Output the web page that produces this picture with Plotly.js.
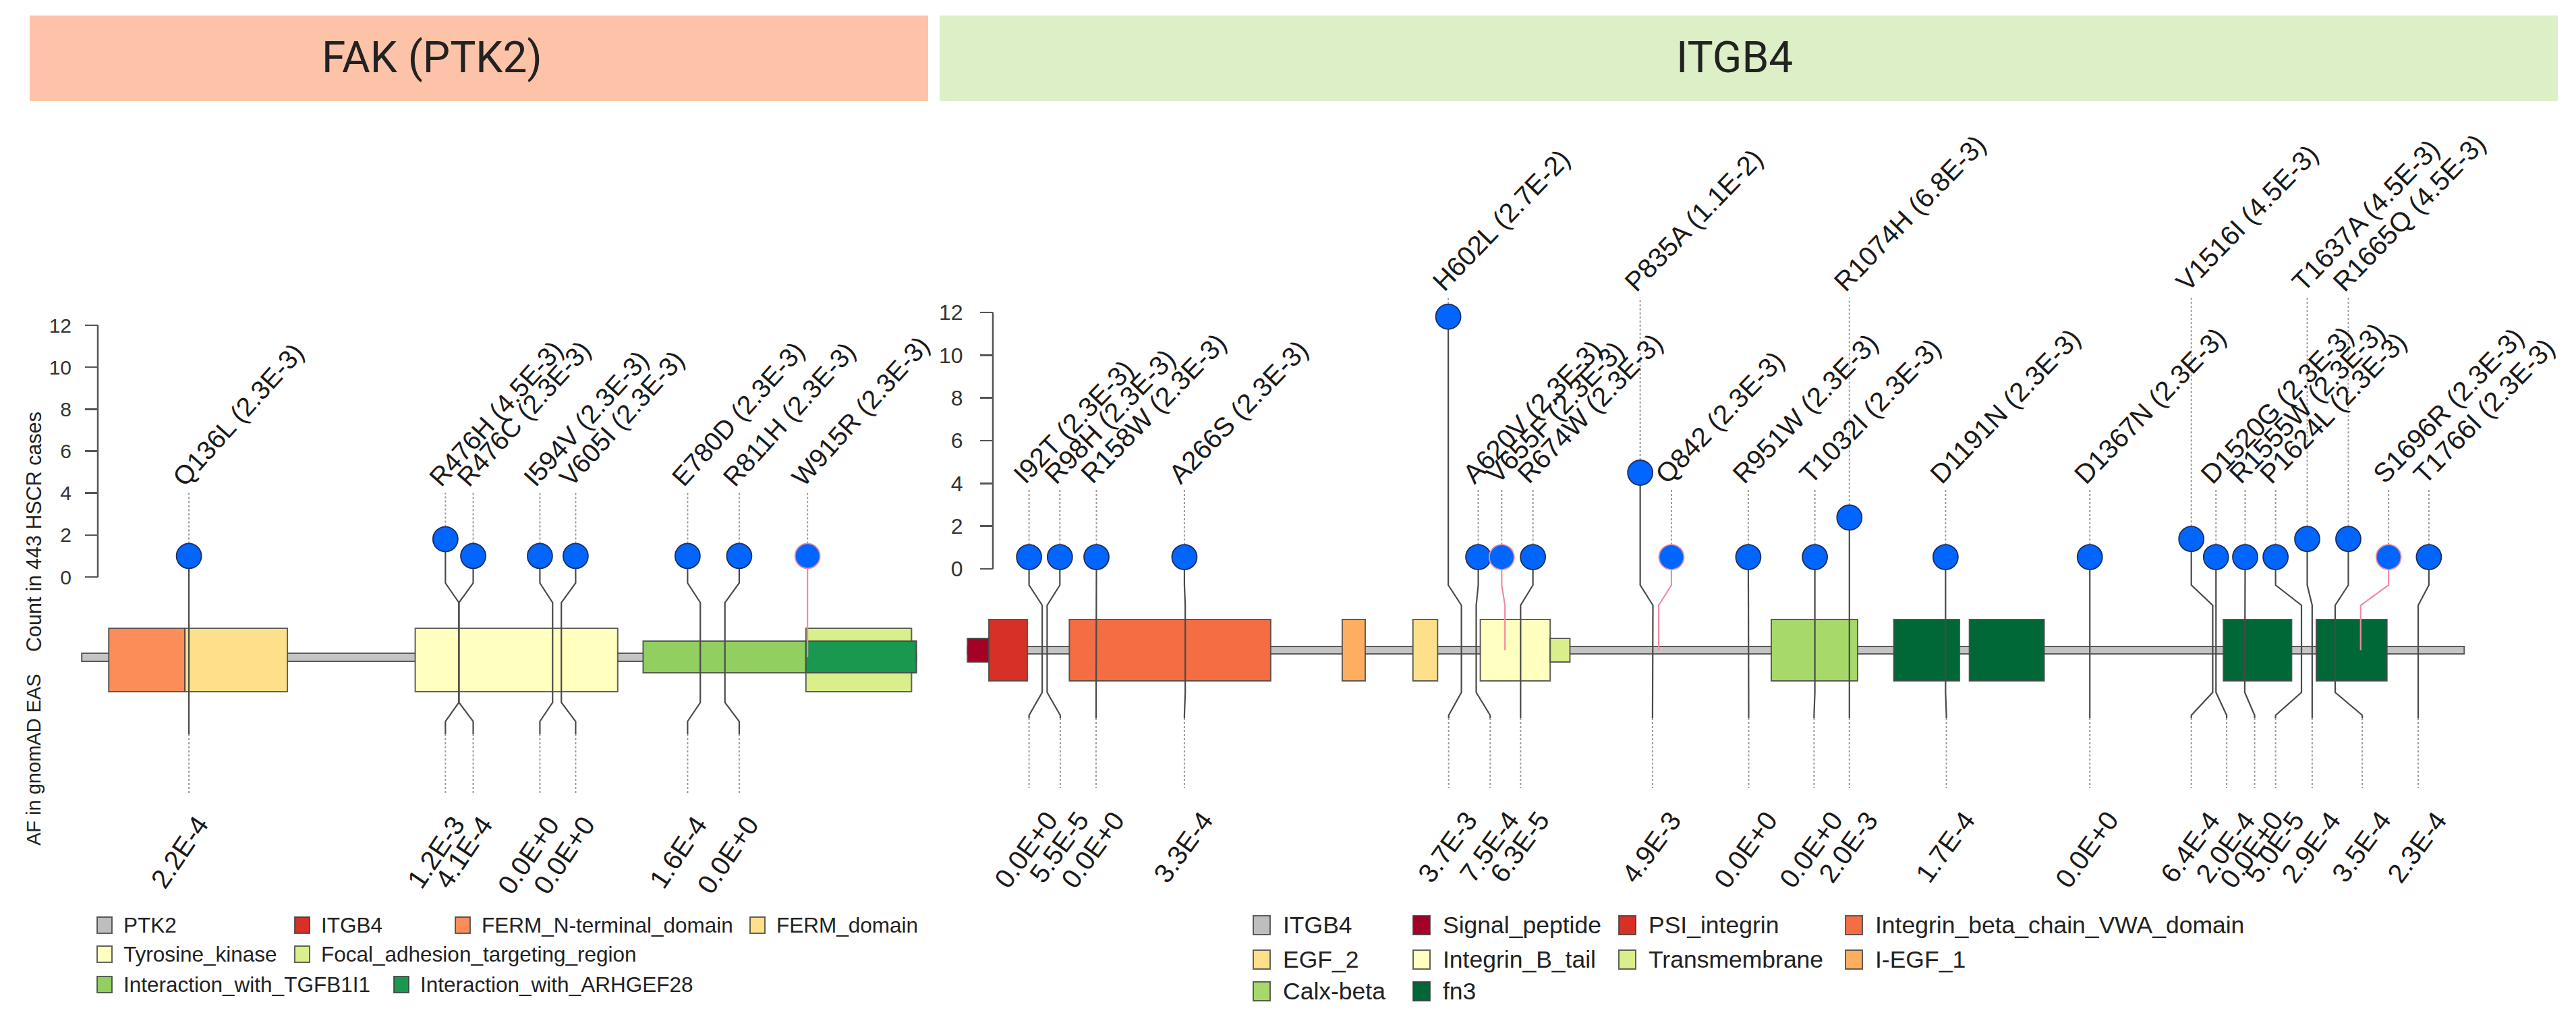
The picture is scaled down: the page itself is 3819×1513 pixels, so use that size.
<!DOCTYPE html>
<html>
<head>
<meta charset="utf-8">
<script src="https://cdn.plot.ly/plotly-3.0.1.min.js"></script>
<style>
html,body{margin:0;padding:0;background:#ffffff;}
#chart{width:3819px;height:1513px;}
</style>
</head>
<body>
<div id="chart"></div>
<script>
// ================= DATA =================
// ---- FAK (PTK2) ----
const ptk2Length = 1052;
const ptk2DomainName  = ["FERM_N-terminal_domain","FERM_domain","Tyrosine_kinase","Interaction_with_TGFB1I1","Focal_adhesion_targeting_region","Interaction_with_ARHGEF28"];
const ptk2DomainStart = [35, 131, 421, 708, 913, 913];
const ptk2DomainEnd   = [131, 260, 676, 1052, 1046, 1052];

const ptk2Mutation       = ["Q136L","R476H","R476C","I594V","V605I","E780D","R811H","W915R"];
const ptk2Position       = [136, 476, 476, 594, 605, 780, 811, 915];
const ptk2MarkerPosition = [136, 459, 494, 578, 623, 764, 829, 915];
const ptk2AFPosition     = [136, 459, 494, 578, 623, 764, 829, null];
const ptk2Height         = [1, 1.8, 1, 1, 1, 1, 1, 1];
const ptk2CaseFreq       = ["2.3E-3","4.5E-3","2.3E-3","2.3E-3","2.3E-3","2.3E-3","2.3E-3","2.3E-3"];
const ptk2GnomadAF       = ["2.2E-4","1.2E-3","4.1E-4","0.0E+0","0.0E+0","1.6E-4","0.0E+0",null];
const ptk2Class          = ["a","a","a","a","a","a","a","b"];
const ptk2LabelTier      = [0,0,0,0,0,0,0,0];

// ---- ITGB4 ----
const itgb4Length = 1822;
const itgb4DomainName  = ["Signal_peptide","PSI_integrin","Integrin_beta_chain_VWA_domain","I-EGF_1","EGF_2","Integrin_B_tail","Transmembrane","Calx-beta","fn3","fn3","fn3","fn3"];
const itgb4DomainStart = [1, 27, 125, 457, 543, 625, 710, 979, 1128, 1220, 1529, 1642];
const itgb4DomainEnd   = [27, 74, 370, 485, 573, 710, 734, 1084, 1208, 1311, 1612, 1728];

const itgb4Mutation       = ["I92T","R98H","R158W","A266S","H602L","A620V","V655F","R674W","P835A","Q842","R951W","T1032I","R1074H","D1191N","D1367N","V1516I","D1520G","R1555W","P1624L","T1637A","R1665Q","S1696R","T1766I"];
const itgb4Position       = [92, 98, 158, 266, 602, 620, 655, 674, 835, 842, 951, 1032, 1074, 1191, 1367, 1516, 1520, 1555, 1624, 1637, 1665, 1696, 1766];
const itgb4MarkerPosition = [76, 113.5, 158, 265, 586, 622.5, 651, 689, 819.5, 857.5, 951, 1032, 1074, 1191, 1366.5, 1490, 1520, 1555.5, 1592.5, 1631, 1681, 1730, 1779];
const itgb4AFPosition     = [76, 114, 157.5, 265, 586.5, 637, null, 674, 834.5, null, 951.5, 1031, 1074, 1192, 1366.5, 1490, 1533, 1567, 1592.5, 1637, 1698, null, 1766];
const itgb4Height         = [0.55, 0.55, 0.55, 0.55, 11.8, 0.55, 0.55, 0.55, 4.5, 0.55, 0.55, 0.55, 2.4, 0.55, 0.55, 1.4, 0.55, 0.55, 0.55, 1.4, 1.4, 0.55, 0.55];
const itgb4CaseFreq       = ["2.3E-3","2.3E-3","2.3E-3","2.3E-3","2.7E-2","2.3E-3","2.3E-3","2.3E-3","1.1E-2","2.3E-3","2.3E-3","2.3E-3","6.8E-3","2.3E-3","2.3E-3","4.5E-3","2.3E-3","2.3E-3","2.3E-3","4.5E-3","4.5E-3","2.3E-3","2.3E-3"];
const itgb4GnomadAF       = ["0.0E+0","5.5E-5","0.0E+0","3.3E-4","3.7E-3","7.5E-4",null,"6.3E-5","4.9E-3",null,"0.0E+0","0.0E+0","2.0E-3","1.7E-4","0.0E+0","6.4E-4","2.0E-4","0.0E+0","5.0E-5","2.9E-4","3.5E-4",null,"2.3E-4"];
const itgb4Class          = ["a","a","a","a","a","a","b","a","a","b","a","a","a","a","a","a","a","a","a","a","a","b","a"];
const itgb4LabelTier      = [0,0,0,0,1,0,0,0,1,0,0,0,1,0,0,1,0,0,0,1,1,0,0];

// ---- legends ----
const ptk2LegendNames  = ["PTK2","ITGB4","FERM_N-terminal_domain","FERM_domain","Tyrosine_kinase","Focal_adhesion_targeting_region","Interaction_with_TGFB1I1","Interaction_with_ARHGEF28"];
const itgb4LegendNames = ["ITGB4","Signal_peptide","PSI_integrin","Integrin_beta_chain_VWA_domain","EGF_2","Integrin_B_tail","Transmembrane","I-EGF_1","Calx-beta","fn3"];

const yTickValues = [0, 2, 4, 6, 8, 10, 12];
const headerTitles = ["FAK (PTK2)", "ITGB4"];
const yTitleCount = "Count in 443 HSCR cases";
const yTitleAF = "AF in gnomAD EAS";

// ================= STYLE / LAYOUT =================
const W = 3819, H = 1513;
const FONT = "Liberation Sans, Arial, Helvetica, sans-serif";

const ptk2Colors = {
  "PTK2":"#BEBEBE","ITGB4":"#D73027","FERM_N-terminal_domain":"#FC8D59","FERM_domain":"#FEE08B",
  "Tyrosine_kinase":"#FFFFBF","Focal_adhesion_targeting_region":"#D9EF8B",
  "Interaction_with_TGFB1I1":"#91CF60","Interaction_with_ARHGEF28":"#1A9850"
};
const itgb4Colors = {
  "ITGB4":"#BEBEBE","Signal_peptide":"#A50026","PSI_integrin":"#D73027","Integrin_beta_chain_VWA_domain":"#F46D43",
  "I-EGF_1":"#FDAE61","EGF_2":"#FEE08B","Integrin_B_tail":"#FFFFBF","Transmembrane":"#D9EF8B",
  "Calx-beta":"#A6D96A","fn3":"#006837"
};
const narrowDomains = {"Interaction_with_TGFB1I1":1,"Interaction_with_ARHGEF28":1,"Signal_peptide":1,"Transmembrane":1};

const classStyle = {
  a: {marker:"#0066FF", border:"#1d2d5e", stem:"#4a4a4a"},
  b: {marker:"#0066FF", border:"#EF8CA2", stem:"#F08CA0"}
};

const panels = [
  {
    xref:"x", yref:"y", xaxisKey:"xaxis", yaxisKey:"yaxis",
    x0px:120, pxPerAA:1.1772, zeroPx:855, unitPx:31.08, axisPx:145,
    trackPx:[968,980], tallPx:[931,1025], narrowPx:[950,997],
    jogPx:[864,893], lowJogPx:[1041,1069], solidEndPx:1088, dotEndPx:1175,
    labelPx:[730,441], afTopPx:1200, afOff:0, labelAngle:-48, afAngle:-56,
    labelFont:39, afFont:40, tickStandoff:14, tickFont:30,
    length:ptk2Length, colors:ptk2Colors, gene:"PTK2",
    dName:ptk2DomainName, dStart:ptk2DomainStart, dEnd:ptk2DomainEnd,
    mut:ptk2Mutation, pos:ptk2Position, mpos:ptk2MarkerPosition, apos:ptk2AFPosition,
    h:ptk2Height, cf:ptk2CaseFreq, af:ptk2GnomadAF, cls:ptk2Class, tier:ptk2LabelTier
  },
  {
    xref:"x2", yref:"y2", xaxisKey:"xaxis2", yaxisKey:"yaxis2",
    x0px:1433, pxPerAA:1.2186, zeroPx:843, unitPx:31.67, axisPx:1472,
    trackPx:[958,969], tallPx:[918,1009], narrowPx:[946,981],
    jogPx:[867,897], lowJogPx:[1026,1060], solidEndPx:1064, dotEndPx:1168,
    labelPx:[726,441], afTopPx:1193, afOff:15, labelAngle:-46, afAngle:-54,
    labelFont:40, afFont:40, tickStandoff:19, tickFont:32,
    length:itgb4Length, colors:itgb4Colors, gene:"ITGB4",
    dName:itgb4DomainName, dStart:itgb4DomainStart, dEnd:itgb4DomainEnd,
    mut:itgb4Mutation, pos:itgb4Position, mpos:itgb4MarkerPosition, apos:itgb4AFPosition,
    h:itgb4Height, cf:itgb4CaseFreq, af:itgb4GnomadAF, cls:itgb4Class, tier:itgb4LabelTier
  }
];

function yv(p, px){ return (p.zeroPx - px) / p.unitPx; }
function py(px){ return 1 - px / H; }   // paper y from pixel
function pxr(px){ return px / W; }      // paper x from pixel

const MARKER_D = 37;
const shapes = [], annotations = [], traces = [];
const layout = {
  width:W, height:H, margin:{l:0,r:0,t:0,b:0},
  paper_bgcolor:"#ffffff", plot_bgcolor:"rgba(0,0,0,0)",
  showlegend:false, shapes:shapes, annotations:annotations,
  font:{family:FONT, color:"#222222"}
};

// header bars
const headerPx = [[44,1376],[1393,3792]];
const headerFill = ["#FCC3A8","#DCEFC6"];
const headerTextX = [640, 2571];
headerTitles.forEach((t,i)=>{
  shapes.push({type:"rect", xref:"paper", yref:"paper", x0:pxr(headerPx[i][0]), x1:pxr(headerPx[i][1]),
    y0:py(150), y1:py(23), fillcolor:headerFill[i], line:{width:0}, layer:"below"});
  annotations.push({xref:"paper", yref:"paper", x:pxr(headerTextX[i]), y:py(86), text:t, showarrow:false,
    xanchor:"center", yanchor:"middle", font:{family:"Roboto, "+FONT, size:64, color:"#222222"}});
});

panels.forEach((p, pi)=>{
  const W_AA = W / p.pxPerAA;
  layout[p.xaxisKey] = {range:[-p.x0px/p.pxPerAA, W_AA - p.x0px/p.pxPerAA], visible:false, domain:[0,1],
    fixedrange:true};
  if (pi === 1) { layout[p.xaxisKey].overlaying = "x"; }
  layout[p.yaxisKey] = {range:[yv(p,H), yv(p,0)], domain:[0,1], anchor:"free", position:pxr(p.axisPx),
    side:"left", showgrid:false, zeroline:false, showline:false, tickmode:"array", tickvals:yTickValues,
    ticktext:yTickValues.map(String), ticks:"outside", ticklen:19, tickwidth:2.5, tickcolor:"#555555",
    ticklabelstandoff:p.tickStandoff, tickfont:{family:FONT, size:p.tickFont, color:"#333333"},
    automargin:false, fixedrange:true};
  if (pi === 1) { layout[p.yaxisKey].overlaying = "y"; }

  // y axis line 0..12
  shapes.push({type:"line", xref:"paper", yref:p.yref, x0:pxr(p.axisPx), x1:pxr(p.axisPx),
    y0:yTickValues[0], y1:yTickValues[yTickValues.length-1], line:{color:"#555555", width:2.5}});

  // protein backbone
  shapes.push({type:"rect", xref:p.xref, yref:p.yref, x0:1, x1:p.length,
    y0:yv(p,p.trackPx[1]), y1:yv(p,p.trackPx[0]), fillcolor:"#C4C4C4",
    line:{color:"#5a5a5a", width:2}, layer:"below"});
  // domains
  p.dName.forEach((n,i)=>{
    const hp = narrowDomains[n] ? p.narrowPx : p.tallPx;
    shapes.push({type:"rect", xref:p.xref, yref:p.yref, x0:p.dStart[i], x1:p.dEnd[i],
      y0:yv(p,hp[1]), y1:yv(p,hp[0]), fillcolor:p.colors[n],
      line:{color:"rgba(70,70,70,0.85)", width:2}, layer:"below"});
  });

  // stems
  const sx=[], sy=[], kx=[], ky=[], dx=[], dy=[];
  const rUnits = (MARKER_D/2) / p.unitPx;
  p.mut.forEach((m,i)=>{
    const mx=p.mpos[i], tx=p.pos[i], lx=p.apos[i], h=p.h[i];
    if (p.cls[i] === "b") {
      kx.push(mx, mx, tx, tx, null);
      ky.push(h, yv(p,p.jogPx[0]), yv(p,p.jogPx[1]), yv(p,(p.trackPx[0]+p.trackPx[1])/2), null);
    } else {
      sx.push(mx, mx, tx, tx, lx, lx, null);
      sy.push(h, yv(p,p.jogPx[0]), yv(p,p.jogPx[1]), yv(p,p.lowJogPx[0]), yv(p,p.lowJogPx[1]), yv(p,p.solidEndPx), null);
      dx.push(lx, lx, null);
      dy.push(yv(p,p.solidEndPx), yv(p,p.dotEndPx), null);
    }
    // upper dotted to label
    dx.push(mx, mx, null);
    dy.push(h + rUnits, yv(p, p.labelPx[p.tier[i]]) , null);
  });
  traces.push({type:"scatter", mode:"lines", x:dx, y:dy, xaxis:p.xref, yaxis:p.yref, hoverinfo:"skip",
    line:{color:"#9a9a9a", width:2, dash:"dot"}});
  traces.push({type:"scatter", mode:"lines", x:sx, y:sy, xaxis:p.xref, yaxis:p.yref, hoverinfo:"skip",
    line:{color:classStyle.a.stem, width:2.2}});
  traces.push({type:"scatter", mode:"lines", x:kx, y:ky, xaxis:p.xref, yaxis:p.yref, hoverinfo:"skip",
    line:{color:classStyle.b.stem, width:2.2}});
  traces.push({type:"scatter", mode:"markers", x:p.mpos, y:p.h, xaxis:p.xref, yaxis:p.yref,
    text:p.mut, hoverinfo:"text",
    marker:{size:MARKER_D, color:p.cls.map(c=>classStyle[c].marker),
      line:{color:p.cls.map(c=>classStyle[c].border), width:1.8}}});

  // labels
  const th = -p.labelAngle*Math.PI/180;
  const Hbox = p.labelFont*1.15;
  p.mut.forEach((m,i)=>{
    annotations.push({xref:p.xref, yref:p.yref, x:p.mpos[i], y:yv(p,p.labelPx[p.tier[i]]),
      text:m+" ("+p.cf[i]+")", showarrow:false, textangle:p.labelAngle, xanchor:"left", yanchor:"bottom",
      xshift:-Hbox*Math.sin(th), borderpad:0, font:{family:FONT, size:p.labelFont, color:"#1a1a1a"}});
  });
  const ta = -p.afAngle*Math.PI/180;
  const Hb2 = p.afFont*1.15;
  p.mut.forEach((m,i)=>{
    if (p.af[i] === null) return;
    annotations.push({xref:p.xref, yref:p.yref, x:p.apos[i], y:yv(p,p.afTopPx),
      text:p.af[i], showarrow:false, textangle:p.afAngle, xanchor:"right", yanchor:"top",
      xshift:p.afOff + Hb2*Math.sin(ta), borderpad:0, font:{family:FONT, size:p.afFont, color:"#1a1a1a"}});
  });
});

// y axis titles (left panel)
annotations.push({xref:"paper", yref:"paper", x:pxr(50), y:py(788), text:yTitleCount, textangle:-90,
  showarrow:false, xanchor:"center", yanchor:"middle", font:{family:FONT, size:30.5, color:"#222222"}});
annotations.push({xref:"paper", yref:"paper", x:pxr(50), y:py(1126), text:yTitleAF, textangle:-90,
  showarrow:false, xanchor:"center", yanchor:"middle", font:{family:FONT, size:29, color:"#222222"}});

// legends
const ptk2LegendPx = [[144,1371],[437,1371],[675,1371],[1112,1371],[144,1414],[437,1414],[144,1459],[584,1459]];
const itgb4LegendPx = [[1858,1371],[2095,1371],[2400,1371],[2736,1371],[1858,1422],[2095,1422],[2400,1422],[2736,1422],[1858,1469],[2095,1469]];
function addLegend(names, colors, pos, sw, sh, gap, size){
  names.forEach((n,i)=>{
    const [x,y] = pos[i];
    shapes.push({type:"rect", xref:"paper", yref:"paper", x0:pxr(x), x1:pxr(x+sw), y0:py(y+sh/2), y1:py(y-sh/2),
      fillcolor:colors[n], line:{color:"rgba(60,60,60,0.8)", width:2}});
    annotations.push({xref:"paper", yref:"paper", x:pxr(x+gap), y:py(y), text:n, showarrow:false,
      xanchor:"left", yanchor:"middle", borderpad:0, font:{family:FONT, size:size, color:"#222222"}});
  });
}
addLegend(ptk2LegendNames, ptk2Colors, ptk2LegendPx, 22, 24, 38, 31.5);
addLegend(itgb4LegendNames, itgb4Colors, itgb4LegendPx, 25, 28, 43, 35.5);

Plotly.newPlot("chart", traces, layout, {displayModeBar:false, staticPlot:true});
</script>
</body>
</html>
